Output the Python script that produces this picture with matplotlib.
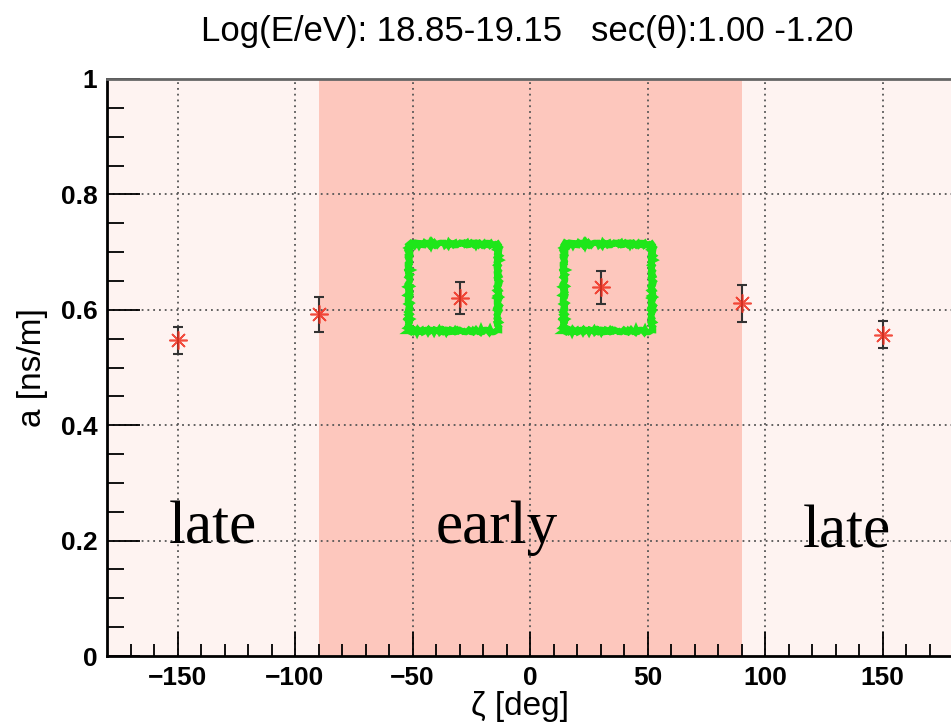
import matplotlib
matplotlib.use("Agg")
import matplotlib.pyplot as plt
from matplotlib.patches import Rectangle
import numpy as np

# zeta bins and fitted slope a with errors
zeta = [-150, -90, -30, 30, 90, 150]
a_val = [0.547, 0.592, 0.621, 0.639, 0.611, 0.557]
a_err = [0.024, 0.030, 0.028, 0.029, 0.032, 0.024]

x_major = [-150, -100, -50, 0, 50, 100, 150]
x_labels = ["\u2212150", "\u2212100", "\u221250", "0", "50", "100", "150"]
y_major = [0, 0.2, 0.4, 0.6, 0.8, 1]
y_labels = ["0", "0.2", "0.4", "0.6", "0.8", "1"]

W, H = 951, 725
fig = plt.figure(figsize=(W / 100, H / 100), dpi=100)
ax = fig.add_axes([107 / W, (H - 656) / H, (953 - 107) / W, (656 - 79) / H])

ax.set_xlim(-180, 180)
ax.set_ylim(0, 1)
ax.set_facecolor("#fef3f1")
ax.axvspan(-90, 90, color="#fdc7bd", zorder=0, lw=0)

# grid
for x in x_major:
    ax.axvline(x, color="#555555", ls=(0, (1, 2.2)), lw=1.3, zorder=1)
for y in y_major[1:]:
    ax.axhline(y, color="#555555", ls=(0, (1, 2.2)), lw=1.3, zorder=1)

ax.errorbar(zeta, a_val, yerr=a_err, fmt="none", ecolor="#333333",
            elinewidth=1.5, capsize=3.5, capthick=1.5, zorder=3)
ax.plot(zeta, a_val, ls="none", marker=(8, 2, 0), ms=13, mec="#f03020",
        mew=1.2, alpha=0.85, zorder=4)

# highlight boxes around the early bins
for x0, x1 in [(-51.5, -13.8), (14.3, 52.0)]:
    box = Rectangle((x0, 0.563), x1 - x0, 0.151, fill=False,
                    ec="#1ee61a", lw=4.5, zorder=5)
    box.set_sketch_params(scale=1.2, length=3, randomness=4)
    ax.add_patch(box)

serif = ["Liberation Serif", "DejaVu Serif"]
ax.text(-135, 0.195, "late", family=serif, fontsize=44, ha="center",
        va="baseline", zorder=6)
ax.text(-14, 0.195, "early", family=serif, fontsize=44, ha="center",
        va="baseline", zorder=6)
ax.text(135, 0.188, "late", family=serif, fontsize=44, ha="center",
        va="baseline", zorder=6)

ax.set_xticks(x_major)
ax.set_xticklabels(x_labels, family="Liberation Sans", fontweight="bold",
                   fontsize=19)
ax.set_xticks(np.arange(-170, 180, 10), minor=True)
ax.set_yticks(y_major)
ax.set_yticklabels(y_labels, family="Liberation Sans", fontweight="bold",
                   fontsize=19)
ax.set_yticks(np.arange(0, 1.001, 0.05), minor=True)
ax.tick_params(axis="x", which="major", direction="in", length=17, width=1.3,
               pad=7)
ax.tick_params(axis="x", which="minor", direction="in", length=9, width=1.3)
ax.tick_params(axis="y", which="major", direction="in", length=24, width=1.3,
               pad=7)
ax.tick_params(axis="y", which="minor", direction="in", length=12, width=1.3)

for side in ["left", "bottom"]:
    ax.spines[side].set_linewidth(2)
ax.spines["top"].set_color("#666666")
ax.spines["top"].set_linewidth(2)
ax.spines["right"].set_visible(False)

fig.text(527 / W, 1 - 32 / H,
         "Log(E/eV): 18.85-19.15   sec(\u03b8):1.00 -1.20",
         family="Liberation Sans", fontsize=25, ha="center", va="center")
fig.text(520 / W, 1 - 707 / H, "\u03b6 [deg]", family="Liberation Sans",
         fontsize=24, ha="center", va="center")
fig.text(32 / W, 1 - 368 / H, "a [ns/m]", family="Liberation Sans",
         fontsize=24, ha="center", va="center", rotation=90)

fig.savefig("out.png", dpi=100, facecolor="white")
